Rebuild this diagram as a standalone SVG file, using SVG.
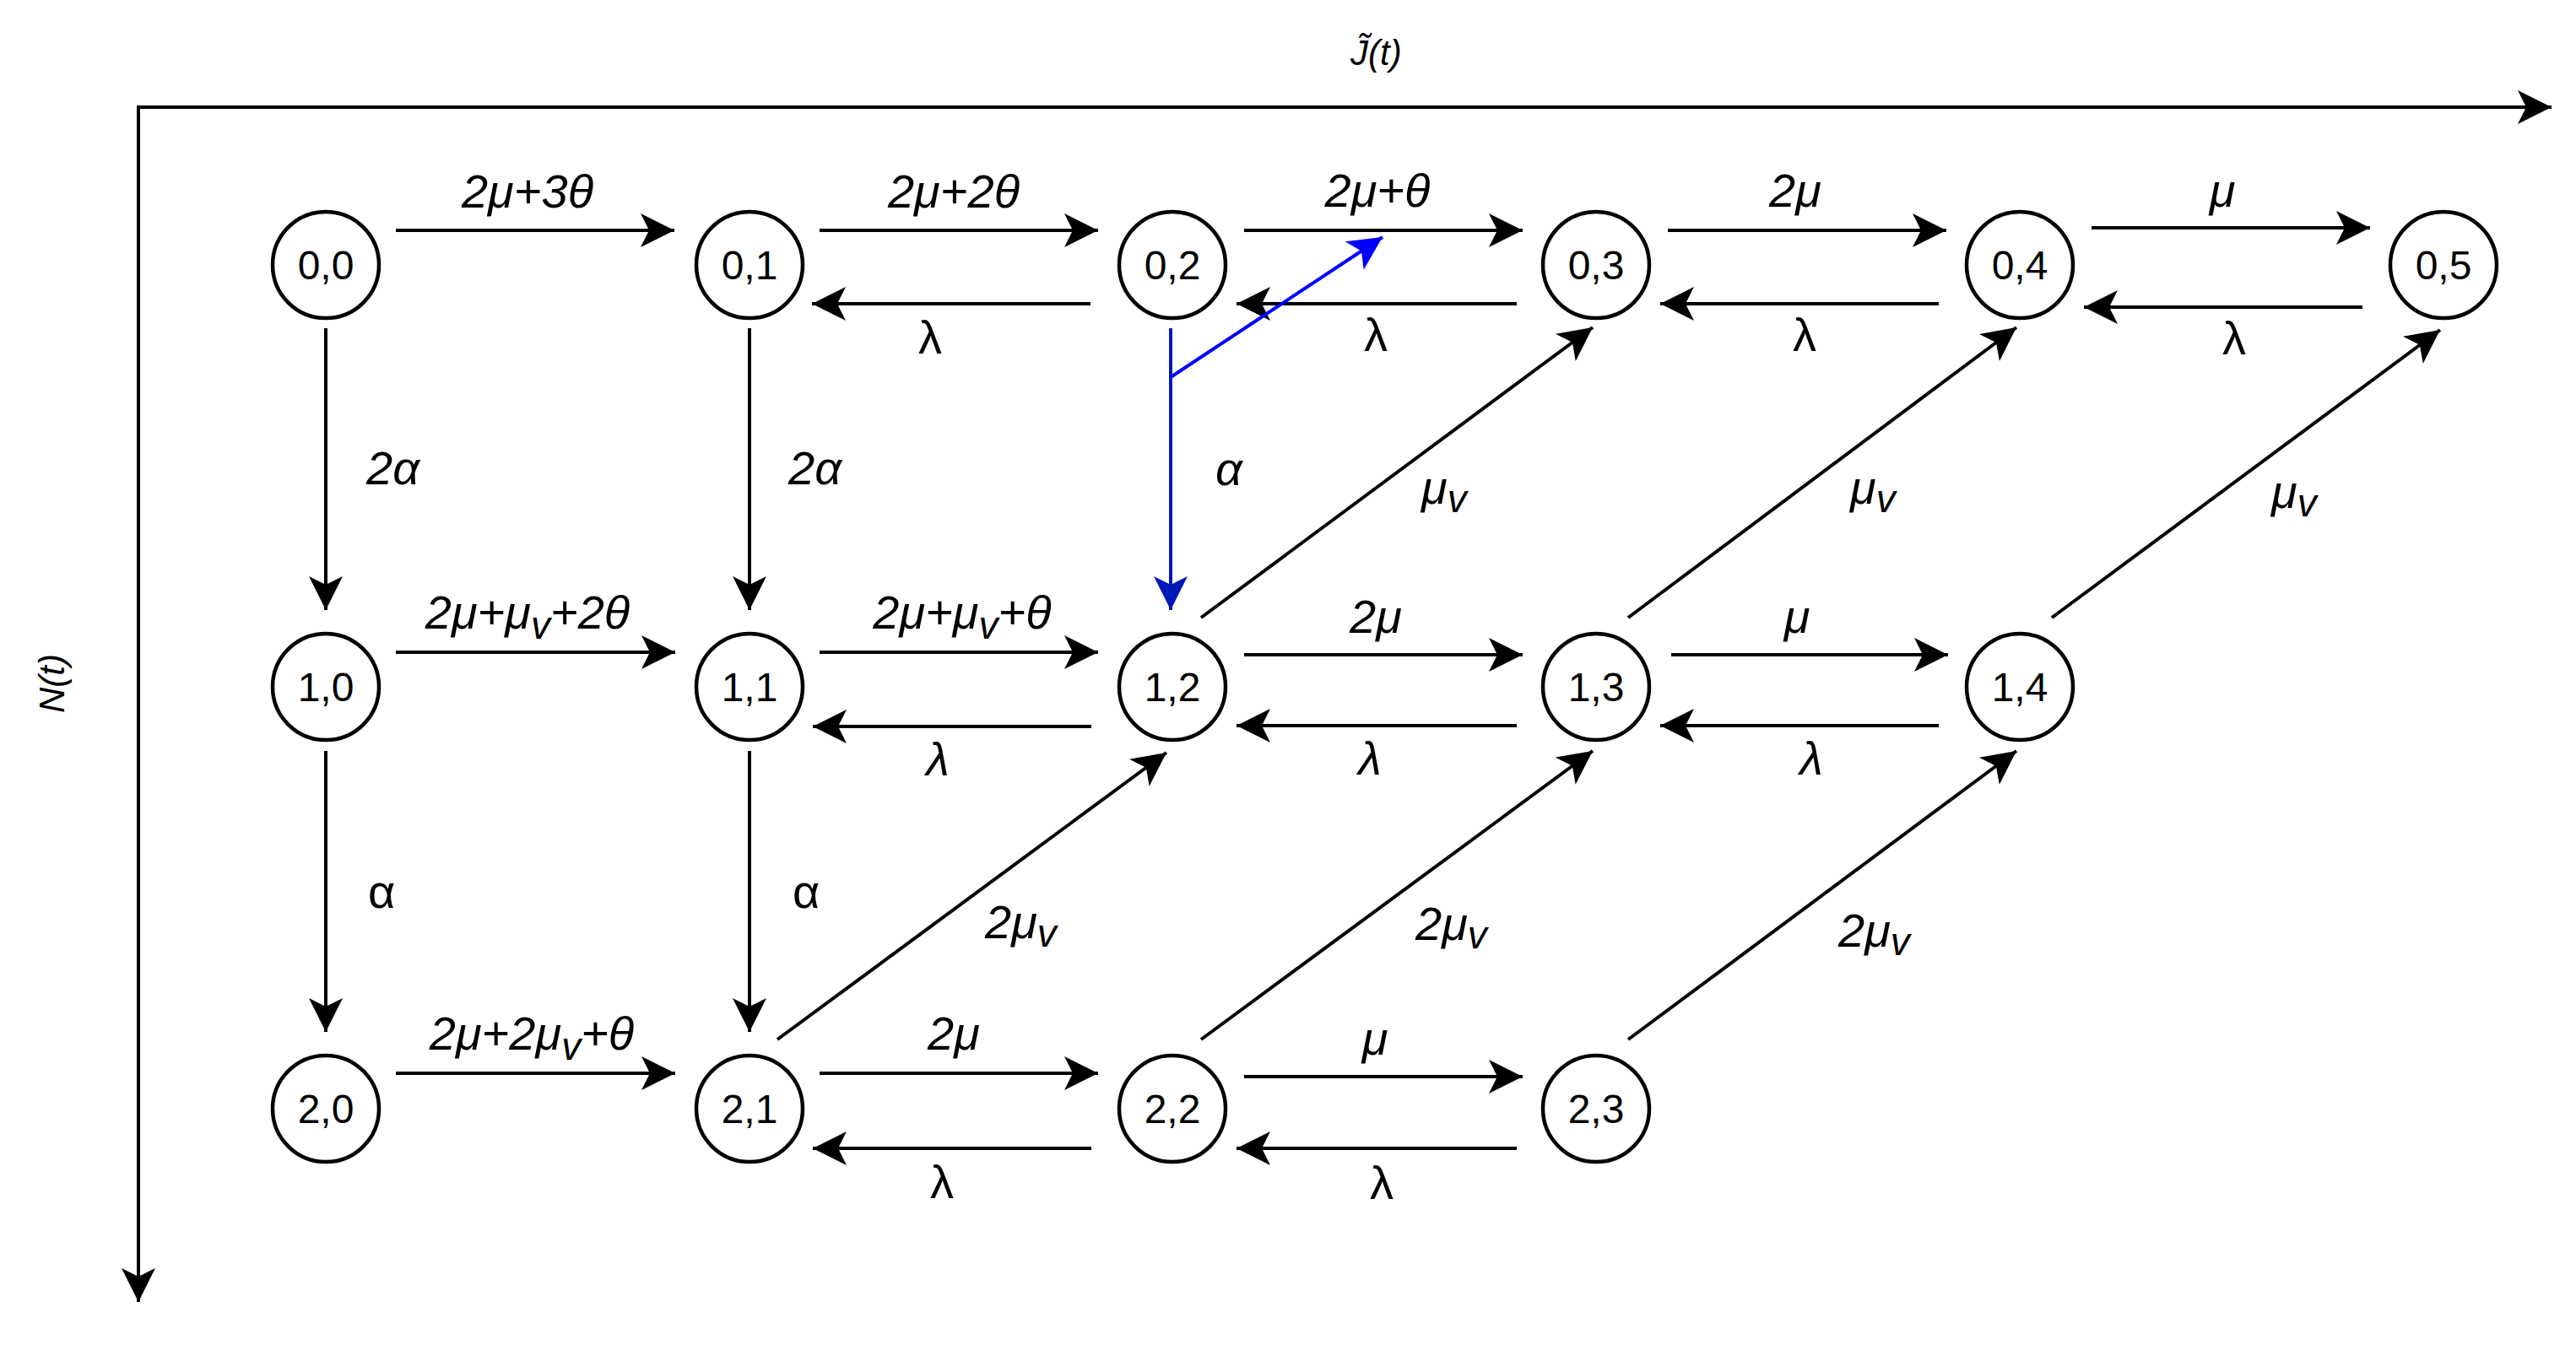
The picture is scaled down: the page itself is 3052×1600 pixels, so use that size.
<svg xmlns="http://www.w3.org/2000/svg" width="3052" height="1600" viewBox="0 0 3052 1600">
<style>
text{font-family:"Liberation Sans",Arial,sans-serif;fill:#000}
.n{font-size:48px;text-anchor:middle}
.l{font-size:56px}
.c{text-anchor:middle}
.i{font-style:italic}
.s{font-size:46px}
.ax{font-size:42px}
circle{fill:#fff;stroke:#000;stroke-width:4.5}
.e{stroke:#000;stroke-width:4;fill:none;marker-end:url(#a)}
.b{stroke:#0018b8;stroke-width:4;fill:none}
</style>
<defs>
<marker id="a" markerUnits="userSpaceOnUse" markerWidth="40" markerHeight="40" refX="40" refY="20" orient="auto" viewBox="0 0 40 40"><path d="M0,0 L40,20 L0,40 L10,20 Z" fill="#000"/></marker>
<marker id="bm" markerUnits="userSpaceOnUse" markerWidth="40" markerHeight="40" refX="40" refY="20" orient="auto" viewBox="0 0 40 40"><path d="M0,0 L40,20 L0,40 L10,20 Z" fill="#0018b8"/></marker>
<marker id="bm2" markerUnits="userSpaceOnUse" markerWidth="40" markerHeight="40" refX="40" refY="20" orient="auto" viewBox="0 0 40 40"><path d="M0,0 L40,20 L0,40 L10,20 Z" fill="#0000ff"/></marker>
</defs>
<g id="axes">
<path class="e" d="M164,1543 V127 H3023"/>
<path class="e" d="M164,1300 V1543"/>
<text class="ax i" x="1600" y="77">J̃(t)</text>
<text class="ax i c" transform="translate(76,810) rotate(-90)">N(t)</text>
</g>
<g id="connectors">
<!-- row 0 -->
<path class="e" d="M469,273 H799"/><path class="e" d="M971,273 H1301"/><path class="e" d="M1474,273 H1804"/><path class="e" d="M1976,273 H2306"/><path class="e" d="M2478,270 H2808"/>
<path class="e" d="M1292,360 H962"/><path class="e" d="M1797,360 H1465"/><path class="e" d="M2297,360 H1967"/><path class="e" d="M2799,364 H2469"/>
<!-- row 1 -->
<path class="e" d="M469,773 H800"/><path class="e" d="M971,773 H1301"/><path class="e" d="M1474,776 H1804"/><path class="e" d="M1980,776 H2308"/>
<path class="e" d="M1293,861 H963"/><path class="e" d="M1797,860 H1465"/><path class="e" d="M2297,860 H1967"/>
<!-- row 2 -->
<path class="e" d="M469,1272 H800"/><path class="e" d="M971,1272 H1301"/><path class="e" d="M1474,1276 H1804"/>
<path class="e" d="M1293,1361 H963"/><path class="e" d="M1797,1361 H1465"/>
<!-- verticals -->
<path class="e" d="M386,389 V723"/><path class="e" d="M888,389 V723"/>
<path class="e" d="M386,890 V1223"/><path class="e" d="M888,890 V1223"/>
<path class="b" d="M1387,389 V723" marker-end="url(#bm)"/>
<path stroke="#0000ff" stroke-width="4" fill="none" d="M1387,447 L1638,281" marker-end="url(#bm2)"/>
<!-- diagonals -->
<path class="e" d="M1423,732 L1887,388"/><path class="e" d="M1929,732 L2389,388"/><path class="e" d="M2431,732 L2891,391"/>
<path class="e" d="M921,1232 L1382,892"/><path class="e" d="M1423,1232 L1887,890"/><path class="e" d="M1929,1232 L2389,890"/>
</g>
<g id="labels">
<text class="l i c" x="625" y="246">2μ+3θ</text>
<text class="l i c" x="1130" y="246">2μ+2θ</text>
<text class="l i c" x="1632" y="245">2μ+θ</text>
<text class="l i c" x="2127" y="245">2μ</text>
<text class="l i c" x="2633" y="245">μ</text>
<text class="l c" x="1102" y="419">λ</text>
<text class="l c" x="1630" y="416">λ</text>
<text class="l c" x="2138" y="416">λ</text>
<text class="l c" x="2647" y="420">λ</text>
<text class="l i" x="434" y="574">2α</text>
<text class="l i" x="934" y="574">2α</text>
<text class="l i" x="1440" y="575">α</text>
<text class="l i c" x="625" y="745">2μ+μ<tspan class="s" dy="12">v</tspan><tspan dy="-12">+2θ</tspan></text>
<text class="l i c" x="1140" y="745">2μ+μ<tspan class="s" dy="12">v</tspan><tspan dy="-12">+θ</tspan></text>
<text class="l i c" x="1630" y="750">2μ</text>
<text class="l i c" x="2129" y="750">μ</text>
<text class="l i c" x="1111" y="919">λ</text>
<text class="l i c" x="1623" y="918">λ</text>
<text class="l i c" x="2146" y="918">λ</text>
<text class="l i" x="1684" y="597">μ<tspan class="s" dy="10">v</tspan></text>
<text class="l i" x="2192" y="597">μ<tspan class="s" dy="10">v</tspan></text>
<text class="l i" x="2691" y="602">μ<tspan class="s" dy="10">v</tspan></text>
<text class="l" x="436" y="1076">α</text>
<text class="l" x="939" y="1076">α</text>
<text class="l i" x="1167" y="1112">2μ<tspan class="s" dy="10">v</tspan></text>
<text class="l i" x="1677" y="1114">2μ<tspan class="s" dy="10">v</tspan></text>
<text class="l i" x="2178" y="1122">2μ<tspan class="s" dy="10">v</tspan></text>
<text class="l i c" x="630" y="1244">2μ+2μ<tspan class="s" dy="12">v</tspan><tspan dy="-12">+θ</tspan></text>
<text class="l i c" x="1130" y="1244">2μ</text>
<text class="l i c" x="1629" y="1250">μ</text>
<text class="l c" x="1116" y="1420">λ</text>
<text class="l c" x="1637" y="1421">λ</text>
</g>
<g id="n00"><circle cx="386" cy="314" r="63"/><text class="n" x="386" y="331">0,0</text></g>
<g id="n01"><circle cx="888" cy="314" r="63"/><text class="n" x="888" y="331">0,1</text></g>
<g id="n02"><circle cx="1389" cy="314" r="63"/><text class="n" x="1389" y="331">0,2</text></g>
<g id="n03"><circle cx="1891" cy="314" r="63"/><text class="n" x="1891" y="331">0,3</text></g>
<g id="n04"><circle cx="2393" cy="314" r="63"/><text class="n" x="2393" y="331">0,4</text></g>
<g id="n05"><circle cx="2895" cy="314" r="63"/><text class="n" x="2895" y="331">0,5</text></g>
<g id="n10"><circle cx="386" cy="814" r="63"/><text class="n" x="386" y="831">1,0</text></g>
<g id="n11"><circle cx="888" cy="814" r="63"/><text class="n" x="888" y="831">1,1</text></g>
<g id="n12"><circle cx="1389" cy="814" r="63"/><text class="n" x="1389" y="831">1,2</text></g>
<g id="n13"><circle cx="1891" cy="814" r="63"/><text class="n" x="1891" y="831">1,3</text></g>
<g id="n14"><circle cx="2393" cy="814" r="63"/><text class="n" x="2393" y="831">1,4</text></g>
<g id="n20"><circle cx="386" cy="1314" r="63"/><text class="n" x="386" y="1331">2,0</text></g>
<g id="n21"><circle cx="888" cy="1314" r="63"/><text class="n" x="888" y="1331">2,1</text></g>
<g id="n22"><circle cx="1389" cy="1314" r="63"/><text class="n" x="1389" y="1331">2,2</text></g>
<g id="n23"><circle cx="1891" cy="1314" r="63"/><text class="n" x="1891" y="1331">2,3</text></g>
</svg>
